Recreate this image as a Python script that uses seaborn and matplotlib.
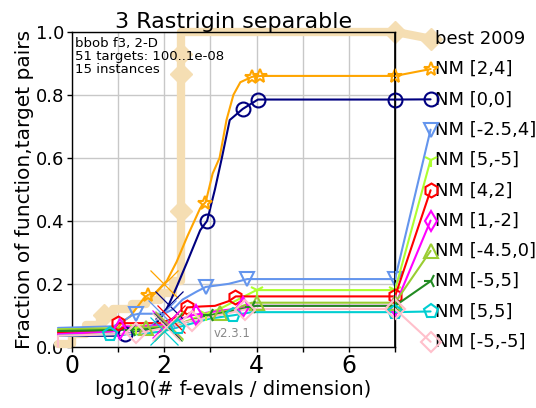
import numpy as np
import pandas as pd
import matplotlib
matplotlib.use("Agg")
import matplotlib.pyplot as plt
import seaborn as sns

# ECDF curves: log10(#f-evals / dimension) vs. fraction of (function, target) pairs
best_x = [-0.3, 0.0, 0.0, 0.3, 0.3, 0.6, 0.6, 0.9, 0.9, 1.3, 1.3, 1.6, 1.6, 1.9, 1.9, 2.2, 2.2, 2.37, 2.37, 7.0]
best_y = [0.01, 0.01, 0.04, 0.04, 0.07, 0.07, 0.10, 0.10, 0.12, 0.12, 0.135, 0.135, 0.15, 0.15, 0.17, 0.17, 0.21, 0.21, 1.0, 1.0]
best_mx = [0.7, 2.37, 2.37, 2.37, 7.0]
best_my = [0.10, 0.43, 0.865, 0.93, 1.0]

labels = ["NM [2,4]", "NM [0,0]", "NM [-2.5,4]", "NM [5,-5]", "NM [4,2]",
          "NM [1,-2]", "NM [-4.5,0]", "NM [-5,5]", "NM [5,5]", "NM [-5,-5]"]

xs = {
    "NM [2,4]":    [-0.3, 0.5, 0.9, 1.0, 1.1, 1.26, 1.54, 1.65, 1.8, 2.06, 2.27, 2.5, 2.78, 2.9, 3.05, 3.2, 3.35, 3.5, 3.65, 3.9, 4.1, 7.0],
    "NM [0,0]":    [-0.3, 0.9, 1.15, 1.65, 1.9, 2.05, 2.12, 2.27, 2.5, 2.78, 2.93, 3.1, 3.25, 3.42, 3.7, 4.03, 7.0],
    "NM [-2.5,4]": [-0.3, 0.9, 1.1, 1.3, 1.45, 2.0, 2.2, 2.4, 2.7, 2.9, 3.4, 3.8, 7.0],
    "NM [5,-5]":   [-0.3, 1.5, 2.3, 2.8, 3.2, 3.6, 4.0, 7.0],
    "NM [4,2]":    [-0.3, 0.9, 1.0, 1.3, 1.9, 2.2, 2.4, 2.5, 2.8, 3.1, 3.4, 3.55, 7.0],
    "NM [1,-2]":   [-0.3, 1.0, 1.1, 1.5, 2.0, 2.3, 2.6, 3.0, 3.5, 3.8, 7.0],
    "NM [-4.5,0]": [-0.3, 1.5, 2.0, 2.5, 3.0, 3.5, 3.9, 7.0],
    "NM [-5,5]":   [-0.3, 1.5, 2.0, 2.5, 3.0, 3.5, 4.0, 7.0],
    "NM [5,5]":    [-0.3, 1.0, 1.5, 2.0, 2.5, 3.0, 3.5, 3.9, 7.0],
    "NM [-5,-5]":  [-0.3, -0.3, 1.0, 1.5, 2.0, 2.5, 3.0, 3.5, 3.8, 7.0],
}
ys = {
    "NM [2,4]":    [0.04, 0.045, 0.05, 0.06, 0.08, 0.096, 0.15, 0.165, 0.17, 0.21, 0.27, 0.35, 0.44, 0.46, 0.55, 0.6, 0.72, 0.8, 0.84, 0.857, 0.86, 0.86],
    "NM [0,0]":    [0.035, 0.035, 0.04, 0.054, 0.086, 0.12, 0.14, 0.19, 0.27, 0.37, 0.40, 0.5, 0.6, 0.72, 0.755, 0.785, 0.785],
    "NM [-2.5,4]": [0.06, 0.065, 0.08, 0.10, 0.105, 0.105, 0.12, 0.15, 0.175, 0.19, 0.20, 0.215, 0.215],
    "NM [5,-5]":   [0.055, 0.06, 0.07, 0.10, 0.12, 0.15, 0.18, 0.18],
    "NM [4,2]":    [0.045, 0.05, 0.075, 0.075, 0.075, 0.09, 0.10, 0.125, 0.128, 0.13, 0.145, 0.16, 0.16],
    "NM [1,-2]":   [0.04, 0.05, 0.065, 0.065, 0.07, 0.085, 0.10, 0.11, 0.12, 0.13, 0.13],
    "NM [-4.5,0]": [0.055, 0.06, 0.065, 0.08, 0.10, 0.12, 0.14, 0.14],
    "NM [-5,5]":   [0.05, 0.055, 0.06, 0.08, 0.10, 0.115, 0.13, 0.13],
    "NM [5,5]":    [0.035, 0.04, 0.04, 0.05, 0.07, 0.09, 0.10, 0.11, 0.11],
    "NM [-5,-5]":  [0.0, 0.035, 0.04, 0.045, 0.06, 0.08, 0.095, 0.11, 0.12, 0.12],
}
# marker positions along each curve
mark_x = {
    "NM [2,4]":    [1.65, 2.88, 3.9, 4.08, 7.0],
    "NM [0,0]":    [1.15, 2.93, 3.7, 4.03, 7.0],
    "NM [-2.5,4]": [1.4, 2.9, 3.8, 7.0],
    "NM [5,-5]":   [1.4, 2.9, 4.0, 7.0],
    "NM [4,2]":    [1.0, 2.5, 3.53, 7.0],
    "NM [1,-2]":   [1.05, 2.7, 3.7, 7.0],
    "NM [-4.5,0]": [1.6, 3.2, 4.0, 7.0],
    "NM [-5,5]":   [1.3, 3.0, 3.9, 7.0],
    "NM [5,5]":    [0.82, 2.3, 3.5, 7.0],
    "NM [-5,-5]":  [1.4, 2.6, 3.75, 7.0],
}
# median of the final number of evaluations (crosses)
median_x = [2.0, 2.1, 1.95, 2.1, 2.15, 2.05, 2.1, 2.08, 2.0, 2.05]

colors = ["#FFA500", "#000080", "#6495ED", "#ADFF2F", "#FF0000",
          "#FF00FF", "#9ACD32", "#228B22", "#00CED1", "#FFC0CB"]
markers = ["*", "o", "v", "1", "h", "d", "^", "3", "p", "D"]

XMAX = 7.0
LEG_X = 7.77
leg_y = np.linspace(0.978, 0.016, 11)

sns.set_style("white")
plt.rcParams["font.family"] = ["DejaVu Sans"]
for key in ["text.color", "axes.labelcolor", "xtick.color", "ytick.color"]:
    plt.rcParams[key] = "black"

fig = plt.figure(figsize=(5.36, 4.08), dpi=100)
ax = fig.add_axes([0.134, 0.150, 0.603, 0.772])

# best 2009 reference
df_best = pd.DataFrame({"x": best_x, "y": best_y})
sns.lineplot(data=df_best, x="x", y="y", estimator=None, sort=False, ax=ax,
             color="#F5DEB3", lw=6, clip_on=False, zorder=2)
ax.plot(best_mx, best_my, ls="none", marker="D", ms=11, color="#F5DEB3",
        mec="#F5DEB3", clip_on=False, zorder=2)
ax.plot([XMAX, LEG_X], [best_y[-1], leg_y[0]], color="#F5DEB3", lw=6,
        marker="D", ms=11, markevery=[1], clip_on=False, zorder=2)
ax.text(LEG_X + 0.09, leg_y[0], "best 2009", fontsize=13, va="center",
        ha="left", clip_on=False)

for i, lab in enumerate(labels):
    c, m = colors[i], markers[i]
    df = pd.DataFrame({"x": xs[lab], "y": ys[lab]})
    sns.lineplot(data=df, x="x", y="y", estimator=None, sort=False, ax=ax,
                 color=c, lw=1.5, clip_on=False, zorder=3)
    mx = np.array(mark_x[lab])
    my = np.interp(mx, xs[lab], ys[lab])
    ax.plot(mx, my, ls="none", marker=m, ms=10, mfc="none", mec=c, mew=1.5,
            clip_on=False, zorder=4)
    cy = np.interp(median_x[i], xs[lab], ys[lab])
    ax.plot([median_x[i]], [cy], ls="none", marker="x", ms=20, mec=c, mew=0.9,
            zorder=4)
    ax.plot([XMAX, LEG_X], [ys[lab][-1], leg_y[i + 1]], color=c, lw=1.5,
            marker=m, ms=10, mfc="none", mec=c, mew=1.5, markevery=[1],
            clip_on=False, zorder=4)
    ax.text(LEG_X + 0.09, leg_y[i + 1], lab, fontsize=13, va="center",
            ha="left", clip_on=False)

ax.axvline(XMAX, color="black", lw=1.2, zorder=5)

ax.set_xlim(0, XMAX)
ax.set_ylim(0, 1)
ax.set_xticks(range(0, 8))
ax.set_xticklabels(["0", "", "2", "", "4", "", "6", ""], fontsize=17)
ax.set_yticks([0, 0.2, 0.4, 0.6, 0.8, 1.0])
ax.set_yticklabels(["0.0", "0.2", "0.4", "0.6", "0.8", "1.0"], fontsize=13)
ax.tick_params(axis="both", direction="out", length=3.5, width=1,
               bottom=True, left=True, colors="black", pad=2)
ax.grid(True, color="#C8C8C8", lw=1)
for s in ax.spines.values():
    s.set_color("black")
    s.set_linewidth(1)

ax.set_xlabel("log10(# f-evals / dimension)", fontsize=14, labelpad=1)
ax.set_ylabel("Fraction of function,target pairs", fontsize=14.5, labelpad=1)
ax.set_title("3 Rastrigin separable", fontsize=16, pad=3)

ax.text(0.01, 0.985, "bbob f3, 2-D\n51 targets: 100..1e-08\n15 instances",
        transform=ax.transAxes, fontsize=9.5, va="top", ha="left",
        linespacing=1.0, zorder=6)
ax.text(0.495, 0.022, "v2.3.1", transform=ax.transAxes, fontsize=8.5,
        color="#888888", ha="center", va="bottom", zorder=6)

fig.savefig("out.png", dpi=100)
